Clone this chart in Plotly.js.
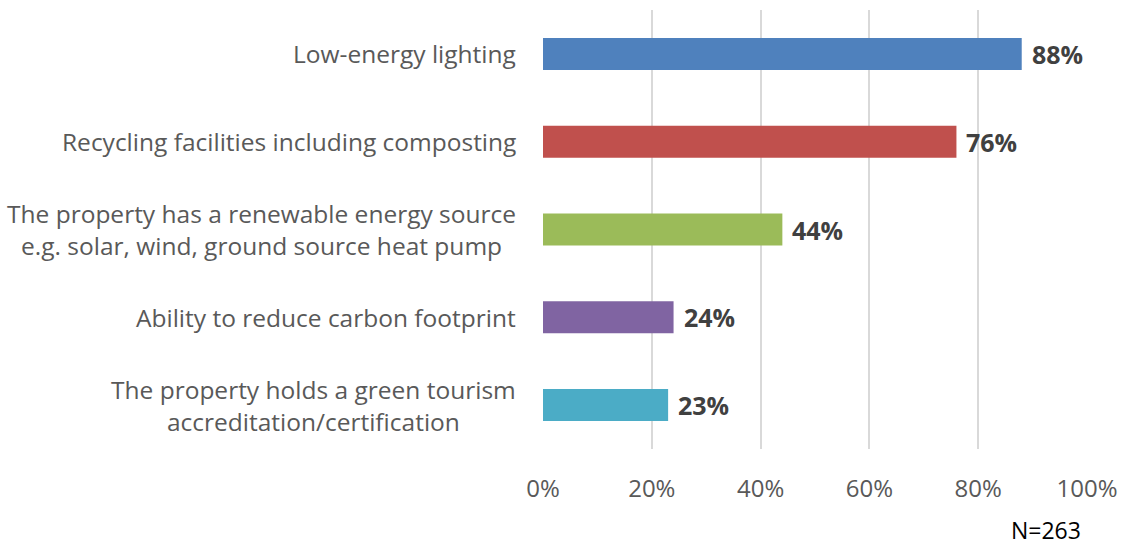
<!DOCTYPE html>
<html>
<head>
<meta charset="utf-8">
<script src="https://cdn.plot.ly/plotly-3.0.1.min.js"></script>
<style>html,body{margin:0;padding:0;background:#fff;}#chart{width:1133px;height:546px;}</style>
</head>
<body>
<div id="chart"></div>
<script>
const categories = [
  "Low-energy lighting",
  "Recycling facilities including composting",
  "The property has a renewable energy source<br>e.g. solar, wind, ground source heat pump",
  "Ability to reduce carbon footprint",
  "The property holds a green tourism<br>accreditation/certification"
];
const values = [0.88, 0.76, 0.44, 0.24, 0.23];
const valueLabels = ["88%", "76%", "44%", "24%", "23%"];
const barColors = ["#4F81BD", "#C0504D", "#9BBB59", "#8064A2", "#4BACC6"];
const tickVals = [0, 0.2, 0.4, 0.6, 0.8, 1.0];
const tickText = ["0%", "20%", "40%", "60%", "80%", "100%"];
const note = "N=263";

const FONT = "'Open Sans', Lato, sans-serif";

const trace = {
  type: "bar",
  orientation: "h",
  x: values,
  y: categories,
  marker: {color: barColors},
  hoverinfo: "none"
};

const L = 543, R = 46, T = 10, B = 97, W = 1133, H = 546;
const pw = W - L - R, ph = H - T - B;

// value labels
const annotations = values.map((v, i) => ({
  x: v, y: categories[i], xref: "x", yref: "y",
  text: "<b>" + valueLabels[i] + "</b>",
  showarrow: false, xanchor: "left", xshift: 8,
  font: {family: FONT, size: 25, color: "#404040"}
}));
// category labels (centered lines, right-aligned block)
categories.forEach((c) => {
  annotations.push({
    x: 0, y: c, xref: "paper", yref: "y",
    text: c, showarrow: false, xanchor: "right", yanchor: "middle",
    align: "center", xshift: -25,
    font: {family: FONT, size: 24.5, color: "#595959"}
  });
});
annotations.push({
  x: (1046 - L) / pw, y: (H - B - 530) / ph, xref: "paper", yref: "paper",
  text: note, showarrow: false, xanchor: "center", yanchor: "middle",
  font: {family: FONT, size: 23, color: "#000000"}
});

const layout = {
  width: W, height: H,
  margin: {l: L, r: R, t: T, b: B, pad: 0},
  paper_bgcolor: "#ffffff",
  plot_bgcolor: "#ffffff",
  showlegend: false,
  bargap: 0.636,
  font: {family: FONT},
  xaxis: {
    range: [0, 1],
    tickvals: tickVals,
    ticktext: tickText,
    showgrid: true,
    gridcolor: "#d9d9d9",
    gridwidth: 2,
    zeroline: false,
    showline: false,
    ticks: "",
    ticklabelstandoff: 23,
    tickfont: {family: FONT, size: 24, color: "#595959"},
    fixedrange: true
  },
  yaxis: {
    autorange: "reversed",
    showgrid: false,
    zeroline: false,
    showline: false,
    ticks: "",
    showticklabels: false,
    fixedrange: true
  },
  annotations: annotations
};

Plotly.newPlot("chart", [trace], layout, {displayModeBar: false, staticPlot: true});
</script>
</body>
</html>
